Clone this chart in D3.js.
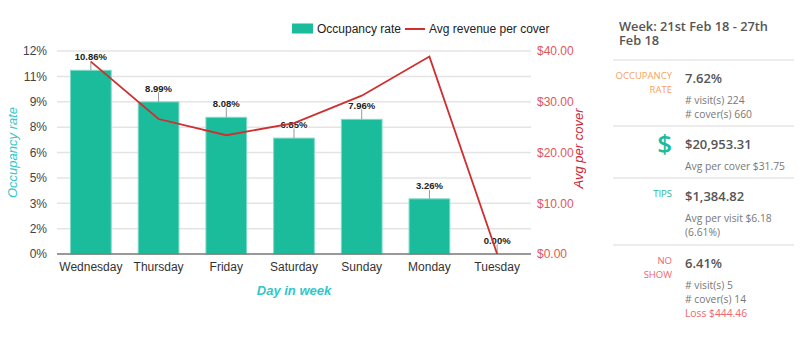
<!DOCTYPE html>
<html>
<head>
<meta charset="utf-8">
<script src="https://cdn.jsdelivr.net/npm/d3@7/dist/d3.min.js"></script>
<style>
  html, body { margin: 0; padding: 0; background: #fff; }
  svg { display: block; }
  .chart text { font-family: Arial, "Liberation Sans", sans-serif; }
  .panel text { font-family: "Open Sans", sans-serif; }
</style>
</head>
<body>
<svg id="root" width="800" height="340"></svg>
<script>
// Weekly occupancy and revenue by day
const days = ["Wednesday", "Thursday", "Friday", "Saturday", "Sunday", "Monday", "Tuesday"];
const occupancy = [10.86, 8.99, 8.08, 6.85, 7.96, 3.26, 0.00];
const avgRevenue = [37.9, 26.6, 23.4, 25.8, 31.2, 38.9, 0.0];

const occTicks = [0, 1.5, 3, 4.5, 6, 7.5, 9, 10.5, 12];
const occTickLabels = ["0%", "2%", "3%", "5%", "6%", "8%", "9%", "11%", "12%"];
const revTicks = [0, 10, 20, 30, 40];
const revTickLabels = ["$0.00", "$10.00", "$20.00", "$30.00", "$40.00"];

const seriesNames = ["Occupancy rate", "Avg revenue per cover"];

// Summary panel content
const weekTitle = ["Week: 21st Feb 18 - 27th", "Feb 18"];
const summary = [
  { label: ["OCCUPANCY", "RATE"], labelColor: "#f6a25e", value: "7.62%",
    notes: [["# visit(s) 224", "#777"], ["# cover(s) 660", "#777"]] },
  { label: [], icon: "$", value: "$20,953.31",
    notes: [["Avg per cover $31.75", "#777"]] },
  { label: ["TIPS"], labelColor: "#2bb594", value: "$1,384.82",
    notes: [["Avg per visit $6.18", "#777"], ["(6.61%)", "#777"]] },
  { label: ["NO", "SHOW"], labelColor: "#f0646a", value: "6.41%",
    notes: [["# visit(s) 5", "#777"], ["# cover(s) 14", "#777"], ["Loss $444.46", "#f0646a"]] }
];

const svg = d3.select("#root");
const chart = svg.append("g").attr("class", "chart");

const plot = { left: 57, right: 531, top: 51, bottom: 254 };
const barColor = "#1abc9c";
const lineColor = "#cf2f2f";

const x = d3.scaleBand().domain(days).range([plot.left, plot.right]).paddingInner(0.384).paddingOuter(0.192);
const yOcc = d3.scaleLinear().domain([0, 12]).range([plot.bottom, plot.top]);
const yRev = d3.scaleLinear().domain([0, 40]).range([plot.bottom, plot.top]);

// gridlines
chart.append("g")
  .selectAll("line").data(occTicks.slice(1)).join("line")
  .attr("x1", plot.left).attr("x2", plot.right)
  .attr("y1", d => yOcc(d)).attr("y2", d => yOcc(d))
  .attr("stroke", "#e4e4e4").attr("stroke-width", 1.5);

// left axis
const leftAxis = d3.axisLeft(yOcc).tickValues(occTicks)
  .tickFormat((d, i) => occTickLabels[i]).tickSize(0).tickPadding(10);
const gl = chart.append("g").attr("transform", `translate(${plot.left},0)`).call(leftAxis);
gl.select(".domain").remove();
gl.selectAll("text").attr("font-size", 12).attr("fill", "#444").attr("font-family", "Arial, 'Liberation Sans', sans-serif");

// right axis
const rightAxis = d3.axisRight(yRev).tickValues(revTicks)
  .tickFormat((d, i) => revTickLabels[i]).tickSize(0).tickPadding(6);
const gr = chart.append("g").attr("transform", `translate(${plot.right},0)`).call(rightAxis);
gr.select(".domain").remove();
gr.selectAll("text").attr("font-size", 12).attr("fill", "#e0575a").attr("font-family", "Arial, 'Liberation Sans', sans-serif");

// bottom axis
const bottomAxis = d3.axisBottom(x).tickSize(0).tickPadding(8);
const gb = chart.append("g").attr("transform", `translate(0,${plot.bottom})`).call(bottomAxis);
gb.select(".domain").remove();
gb.selectAll("text").attr("font-size", 12).attr("fill", "#333").attr("font-family", "Arial, 'Liberation Sans', sans-serif");

// bars
chart.append("g")
  .selectAll("rect").data(occupancy).join("rect")
  .attr("x", (d, i) => x(days[i]) + 0.5)
  .attr("width", x.bandwidth() - 1)
  .attr("y", d => yOcc(d))
  .attr("height", d => plot.bottom - yOcc(d))
  .attr("fill", barColor)
  .attr("stroke", "#7fd9c6").attr("stroke-width", 1);

// baseline
chart.append("line")
  .attr("x1", plot.left).attr("x2", plot.right)
  .attr("y1", plot.bottom).attr("y2", plot.bottom)
  .attr("stroke", "#777").attr("stroke-width", 1.5);

// bar annotations: stem + value
const ann = chart.append("g");
ann.selectAll("line").data(occupancy).join("line")
  .attr("x1", (d, i) => x(days[i]) + x.bandwidth() / 2)
  .attr("x2", (d, i) => x(days[i]) + x.bandwidth() / 2)
  .attr("y1", d => yOcc(d))
  .attr("y2", d => yOcc(d) - 11)
  .attr("stroke", "#999").attr("stroke-width", 1);

// revenue line
const line = d3.line()
  .x((d, i) => x(days[i]) + x.bandwidth() / 2)
  .y(d => yRev(d));
chart.append("path")
  .datum(avgRevenue)
  .attr("d", line)
  .attr("fill", "none")
  .attr("stroke", lineColor)
  .attr("stroke-width", 1.8);

ann.selectAll("text").data(occupancy).join("text")
  .attr("x", (d, i) => x(days[i]) + x.bandwidth() / 2)
  .attr("y", d => yOcc(d) - 10)
  .attr("text-anchor", "middle")
  .attr("font-size", 9.5).attr("font-weight", "bold")
  .attr("fill", "#222")
  .attr("stroke", "#fff").attr("stroke-width", 2).attr("paint-order", "stroke")
  .text(d => d.toFixed(2) + "%");

// legend
const legend = chart.append("g");
legend.append("rect").attr("x", 292).attr("y", 23.5).attr("width", 21).attr("height", 10).attr("fill", barColor);
legend.append("text").attr("x", 317).attr("y", 33).attr("font-size", 12).attr("fill", "#222").text(seriesNames[0]);
legend.append("line").attr("x1", 405).attr("x2", 425).attr("y1", 29).attr("y2", 29)
  .attr("stroke", lineColor).attr("stroke-width", 2);
legend.append("text").attr("x", 429).attr("y", 33).attr("font-size", 12).attr("fill", "#222").text(seriesNames[1]);

// axis titles
chart.append("text")
  .attr("transform", `translate(17,${(plot.top + plot.bottom) / 2}) rotate(-90)`)
  .attr("text-anchor", "middle").attr("font-size", 13).attr("font-style", "italic")
  .attr("fill", "#2fc7c9").text("Occupancy rate");
chart.append("text")
  .attr("transform", `translate(583,${(plot.top + plot.bottom) / 2 - 4}) rotate(-90)`)
  .attr("text-anchor", "middle").attr("font-size", 13).attr("font-style", "italic")
  .attr("fill", "#d0202e").text("Avg per cover");
chart.append("text")
  .attr("x", (plot.left + plot.right) / 2).attr("y", 295)
  .attr("text-anchor", "middle").attr("font-size", 13).attr("font-style", "italic").attr("font-weight", "bold")
  .attr("fill", "#2fc7c9").text("Day in week");

// summary panel
const panel = svg.append("g").attr("class", "panel");
const title = panel.append("text")
  .attr("x", 619).attr("y", 31)
  .attr("font-size", 12.8).attr("font-weight", 600).attr("fill", "#555");
title.selectAll("tspan").data(weekTitle).join("tspan")
  .attr("x", 619).attr("dy", (d, i) => i === 0 ? 0 : 13.5).text(d => d);

const sectionTop = [60, 126, 178, 245];
const labelX = 672, valueX = 685;
sectionTop.forEach((top, s) => {
  panel.append("line").attr("x1", 613).attr("x2", 794).attr("y1", top).attr("y2", top)
    .attr("stroke", "#e6e6e6").attr("stroke-width", 1.5);
  const sec = summary[s];
  if (sec.label.length) {
    const lab = panel.append("text").attr("x", labelX).attr("y", top + 19)
      .attr("text-anchor", "end").attr("font-size", 9.5).attr("fill", sec.labelColor);
    lab.selectAll("tspan").data(sec.label).join("tspan")
      .attr("x", labelX).attr("dy", (d, i) => i === 0 ? 0 : 14).text(d => d);
  }
  if (sec.icon) {
    panel.append("text").attr("x", labelX).attr("y", top + 27)
      .attr("text-anchor", "end").attr("font-size", 26).attr("font-weight", 600)
      .attr("fill", barColor).text(sec.icon);
  }
  panel.append("text").attr("x", valueX).attr("y", top + 23)
    .attr("font-size", 13).attr("font-weight", 600).attr("fill", "#555").text(sec.value);
  sec.notes.forEach((n, i) => {
    panel.append("text").attr("x", valueX).attr("y", top + 44 + i * 14)
      .attr("font-size", 10.3).attr("fill", n[1]).text(n[0]);
  });
});
</script>
</body>
</html>
